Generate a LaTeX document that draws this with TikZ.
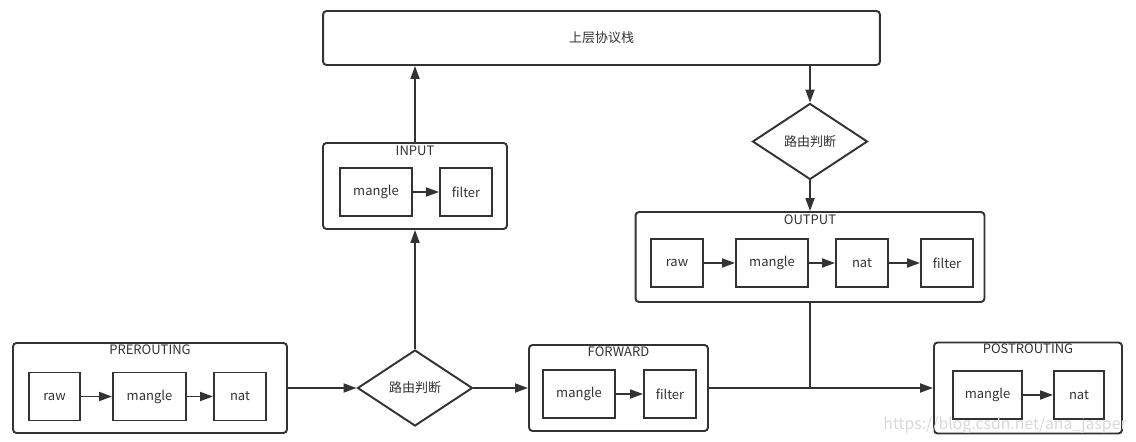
\documentclass[tikz,border=0pt]{standalone}
\usepackage{fontspec}
\setmainfont{Noto Sans CJK SC}
\usepackage{tikz}
\usetikzlibrary{positioning,arrows.meta,shapes.geometric}
\definecolor{ink}{HTML}{333333}
\tikzset{
  chainbox/.style ={draw=ink, line width=1.1pt, rectangle, rounded corners=2pt, fill=white, inner sep=0pt},
  tbl/.style      ={draw=ink, line width=1.1pt, rectangle, fill=white, minimum height=0.96cm, inner sep=0pt},
  route/.style    ={draw=ink, line width=1.1pt, diamond, fill=white, inner sep=0pt, minimum width=2.3cm, minimum height=1.52cm},
  ttl/.style      ={inner sep=0pt},
  arr/.style      ={-{Triangle[length=0.26cm,width=0.18cm]}, draw=ink, line width=1pt},
  lnk/.style      ={draw=ink, line width=1pt},
}

\begin{document}
\begin{tikzpicture}[x=0.02cm, y=-0.02cm, font=\fontsize{7.4}{9}\selectfont, text=ink]
  \useasboundingbox (0,0) rectangle (1136,442);

  % upper protocol stack
  \node[chainbox, minimum width=11.14cm, minimum height=1.08cm] (stack) at (601.5,38) {上层协议栈};

  % PREROUTING
  \node[chainbox, minimum width=5.48cm, minimum height=1.8cm] (pre) at (150,388) {};
  \node[ttl] (preT) at (150,350) {PREROUTING};
  \node[tbl, minimum width=1.02cm] (preRaw) at (54.5,396.5) {raw};
  \node[tbl, minimum width=1.46cm] (preMangle) at (149.5,396.5) {mangle};
  \node[tbl, minimum width=1.04cm] (preNat) at (240,396.5) {nat};
  \draw[arr] (preRaw) -- (preMangle);
  \draw[arr] (preMangle) -- (preNat);

  % first routing decision
  \node[route] (route1) at (415,388) {路由判断};
  \draw[arr] (pre) -- (route1);

  % INPUT
  \node[chainbox, minimum width=3.68cm, minimum height=1.72cm] (in) at (415,186) {};
  \node[ttl] (inT) at (415,151) {INPUT};
  \node[tbl, minimum width=1.44cm] (inMangle) at (376,192) {mangle};
  \node[tbl, minimum width=1.04cm] (inFilter) at (466,192) {filter};
  \draw[arr] (inMangle) -- (inFilter);
  \draw[arr] (route1) -- (in);
  \draw[arr] (in) -- (in |- stack.south);

  % FORWARD
  \node[chainbox, minimum width=3.58cm, minimum height=1.72cm] (fwd) at (618.5,388) {};
  \node[ttl] (fwdT) at (618.5,352) {FORWARD};
  \node[tbl, minimum width=1.44cm] (fwdMangle) at (579,394) {mangle};
  \node[tbl, minimum width=1.04cm] (fwdFilter) at (670,394) {filter};
  \draw[arr] (fwdMangle) -- (fwdFilter);
  \draw[arr] (route1) -- (fwd);

  % second routing decision and OUTPUT
  \node[route] (route2) at (810,141.5) {路由判断};
  \draw[arr] (stack.south -| route2) -- (route2);
  \node[chainbox, minimum width=6.98cm, minimum height=1.8cm] (out) at (810,257) {};
  \node[ttl] (outT) at (810,220) {OUTPUT};
  \node[tbl, minimum width=1.04cm] (outRaw) at (677,263) {raw};
  \node[tbl, minimum width=1.44cm] (outMangle) at (772,263) {mangle};
  \node[tbl, minimum width=1.04cm] (outNat) at (862,263) {nat};
  \node[tbl, minimum width=1.04cm] (outFilter) at (947,263) {filter};
  \draw[arr] (outRaw) -- (outMangle);
  \draw[arr] (outMangle) -- (outNat);
  \draw[arr] (outNat) -- (outFilter);
  \draw[arr] (route2) -- (out);

  % POSTROUTING
  \node[chainbox, minimum width=3.76cm, minimum height=1.82cm] (post) at (1028,388) {};
  \node[ttl] (postT) at (1028,349) {POSTROUTING};
  \node[tbl, minimum width=1.38cm] (postMangle) at (987.5,395) {mangle};
  \node[tbl, minimum width=1.0cm] (postNat) at (1079,395) {nat};
  \draw[arr] (postMangle) -- (postNat);
  \draw[arr] (fwd) -- (post);
  \draw[lnk] (out.south) -- (out.south |- fwd.east);

  \node[anchor=east, text=gray!30, font=\fontsize{9}{10}\selectfont, inner sep=0pt] (mark) at (1127,425) {https://blog.csdn.net/ana\_jasper};
\end{tikzpicture}
\end{document}
